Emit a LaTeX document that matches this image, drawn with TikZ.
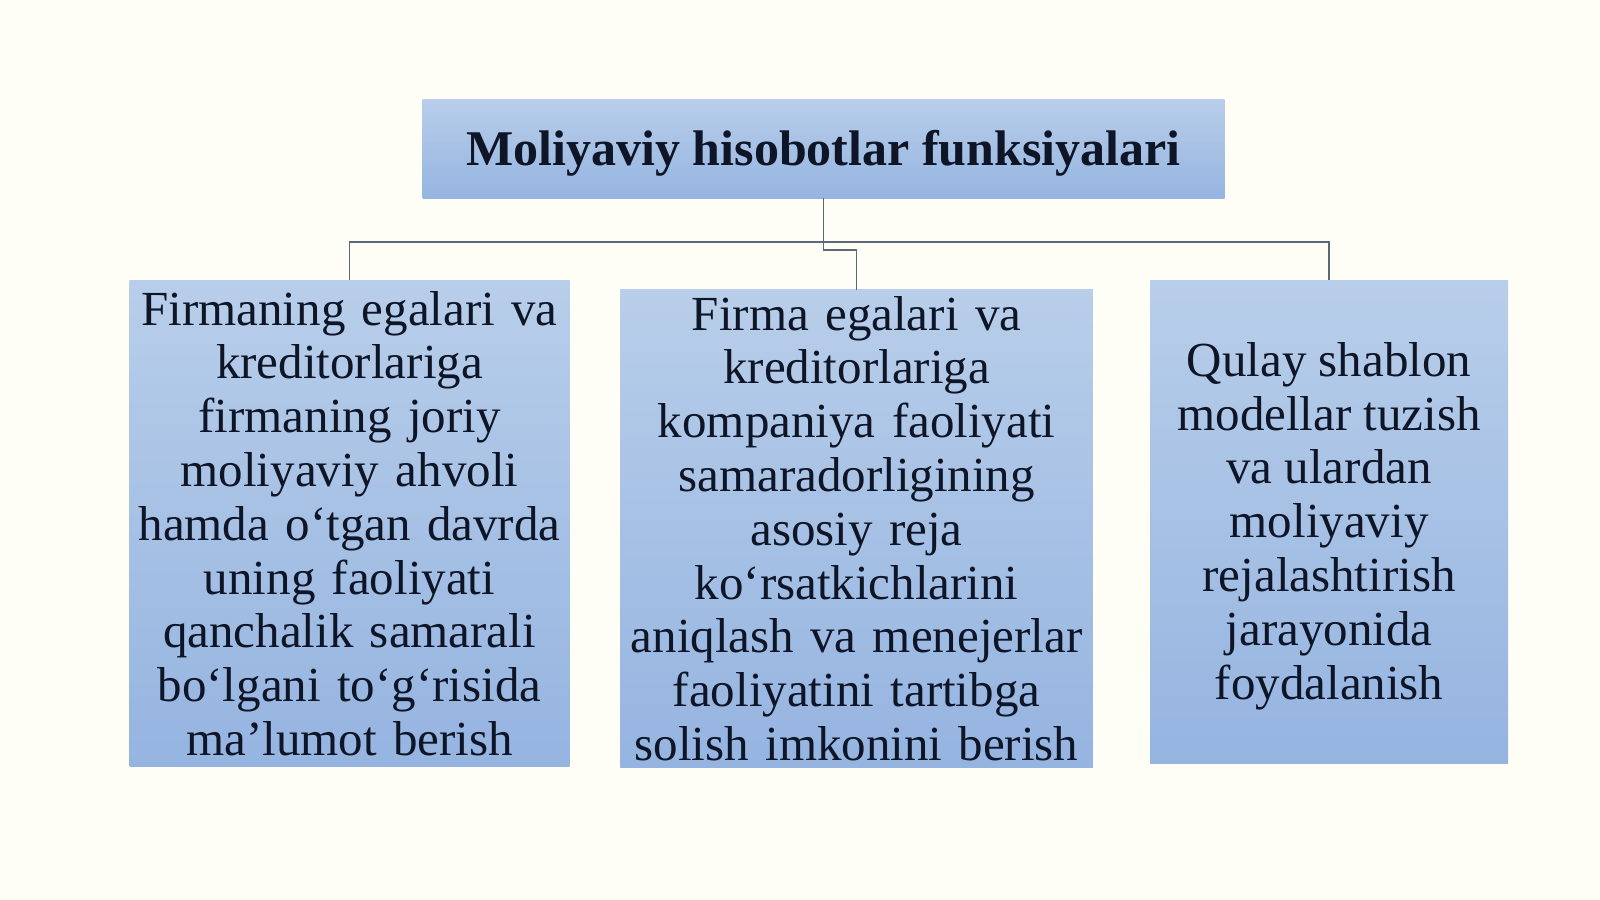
\documentclass[tikz,border=0pt]{standalone}
\usepackage{fontspec}
\setmainfont{Liberation Serif}
\definecolor{bgc}{HTML}{FEFEF6}
\definecolor{boxtop}{HTML}{B8CEEA}
\definecolor{boxbot}{HTML}{95B4E0}
\definecolor{linec}{HTML}{5C6878}
\definecolor{txt}{HTML}{0E1526}
\begin{document}
\begin{tikzpicture}[x=1pt,y=-1pt,
  box/.style={draw=none,top color=boxtop,bottom color=boxbot,inner sep=0pt,
    align=center,text=txt,font=\fontsize{49}{53.8}\selectfont},
  conn/.style={draw=linec,line width=1.5pt}]
\fill[bgc] (0,0) rectangle (1600,899);
\useasboundingbox (0,0) rectangle (1600,899);
\node[box,minimum width=802pt,minimum height=99pt,font=\bfseries\fontsize{50}{56}\selectfont] (top) at (823.5,148.5) {\raisebox{-5pt}[\height][\depth]{Moliyaviy hisobotlar funksiyalari}};
\node[box,minimum width=440pt,minimum height=485.7pt,text width=440pt] (l) at (349.5,523.5) {Firmaning egalari va\\kreditorlariga\\firmaning joriy\\moliyaviy ahvoli\\hamda o‘tgan davrda\\uning faoliyati\\qanchalik samarali\\bo‘lgani to‘g‘risida\\ma’lumot berish};
\node[box,minimum width=472.5pt,minimum height=477.5pt,text width=472.5pt] (m) at (856.6,528.6) {Firma egalari va\\kreditorlariga\\kompaniya faoliyati\\samaradorligining\\asosiy reja\\ko‘rsatkichlarini\\aniqlash va menejerlar\\faoliyatini tartibga\\solish imkonini berish};
\node[box,minimum width=358pt,minimum height=482.7pt] (r) at (1329.1,522) {\raisebox{-5pt}[\height][\depth]{\begin{tabular}{@{}c@{}}Qulay shablon\\modellar tuzish\\va ulardan\\moliyaviy\\rejalashtirish\\jarayonida\\foydalanish\end{tabular}}};
\coordinate (j) at (823.5,241.8);
\coordinate (k) at (823.5,250);
\draw[conn] (top.south) -- (j);
\draw[conn] (j) -| (l.north);
\draw[conn] (j) -| (r.north);
\draw[conn] (top.south) -- (k) -| (m.north);
\end{tikzpicture}
\end{document}
